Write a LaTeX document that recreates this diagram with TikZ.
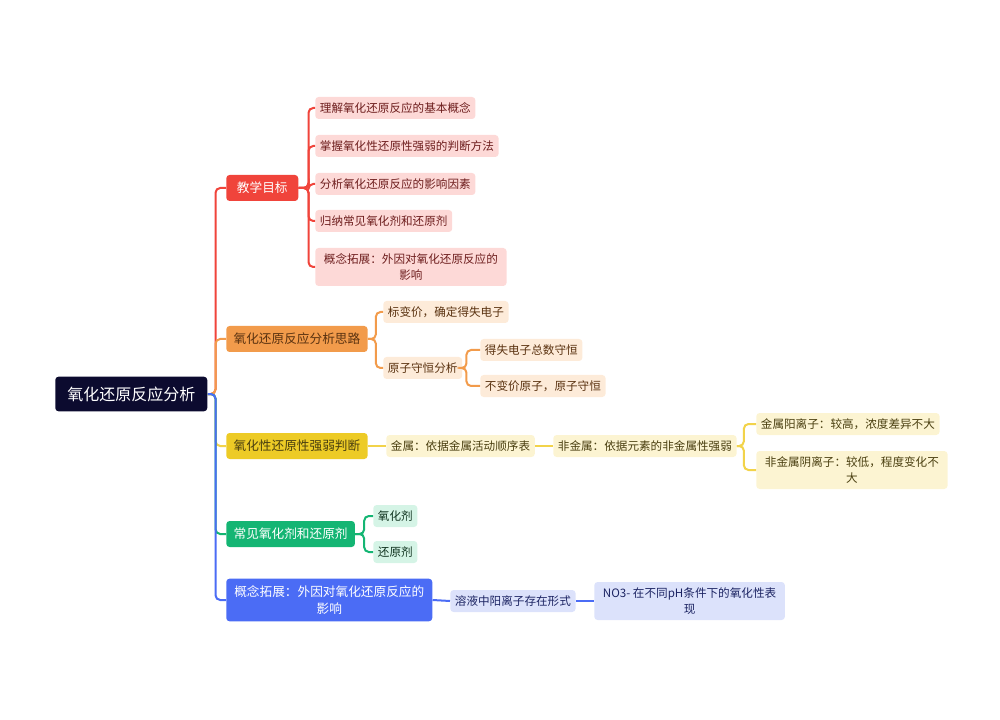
\documentclass[tikz,border=0pt]{standalone}
\usepackage{fontspec}
\setmainfont{Noto Sans CJK SC}
\definecolor{rootc}{HTML}{0C0B2F}
\definecolor{redc}{HTML}{F0443B}
\definecolor{redf}{HTML}{FDD9D7}
\definecolor{redt}{HTML}{6E1E1E}
\definecolor{orac}{HTML}{F29B4B}
\definecolor{oraf}{HTML}{FDEBD9}
\definecolor{orat}{HTML}{5A3210}
\definecolor{yelc}{HTML}{EDCB26}
\definecolor{yell}{HTML}{F2D34A}
\definecolor{yelf}{HTML}{FCF4D2}
\definecolor{yelt}{HTML}{4A3F10}
\definecolor{grec}{HTML}{14B573}
\definecolor{gref}{HTML}{D5F4E6}
\definecolor{gret}{HTML}{10331F}
\definecolor{bluc}{HTML}{4B6CF5}
\definecolor{bluf}{HTML}{DCE2FB}
\definecolor{blut}{HTML}{1C2463}
\begin{document}
\begin{tikzpicture}[x=0.75pt,y=-0.75pt,
  base/.style={rectangle, rounded corners=2.5pt, inner ysep=0pt, anchor=west, align=center},
  rootbox/.style={base, fill=rootc, text=white, font=\fontsize{12}{14}\selectfont, minimum height=26pt, inner xsep=9pt},
  lone/.style={base, font=\fontsize{9.5}{13}\selectfont, minimum height=19.5pt, inner xsep=5.5pt},
  ltwo/.style={base, font=\fontsize{8.7}{11.5}\selectfont, minimum height=16.5pt, inner xsep=3.5pt},
  ltwom/.style={ltwo, inner xsep=6.5pt, minimum height=28.5pt},
  link/.style={line width=1.5pt, rounded corners=3.5pt}
]
\useasboundingbox (0,0) rectangle (1000,720);

% root
\node[rootbox] (root) at (55,394) {氧化还原反应分析};

% level 1
\node[lone, fill=redc, text=white, minimum width=54pt] (a) at (226,188) {教学目标};
\node[lone, fill=orac, text=orat] (b) at (226,339) {氧化还原反应分析思路};
\node[lone, fill=yelc, text=yelt] (c) at (226,446) {氧化性还原性强弱判断};
\node[lone, fill=grec, text=white] (d) at (226,534) {常见氧化剂和还原剂};
\node[lone, fill=bluc, text=white, inner xsep=6pt, minimum height=32pt] (e) at (226,600) {概念拓展：外因对氧化还原反应的\\影响};

% red children
\node[ltwo, fill=redf, text=redt] (a1) at (315,108) {理解氧化还原反应的基本概念};
\node[ltwo, fill=redf, text=redt] (a2) at (315,146) {掌握氧化性还原性强弱的判断方法};
\node[ltwo, fill=redf, text=redt] (a3) at (315,184) {分析氧化还原反应的影响因素};
\node[ltwo, fill=redf, text=redt] (a4) at (315,221) {归纳常见氧化剂和还原剂};
\node[ltwom, fill=redf, text=redt] (a5) at (315,267) {概念拓展：外因对氧化还原反应的\\影响};

% orange children
\node[ltwo, fill=oraf, text=orat] (b1) at (383,312) {标变价，确定得失电子};
\node[ltwo, fill=oraf, text=orat] (b2) at (383,368) {原子守恒分析};
\node[ltwo, fill=oraf, text=orat] (b21) at (480,350) {得失电子总数守恒};
\node[ltwo, fill=oraf, text=orat] (b22) at (480,386) {不变价原子，原子守恒};

% yellow children
\node[ltwo, fill=yelf, text=yelt] (c1) at (386,446) {金属：依据金属活动顺序表};
\node[ltwo, fill=yelf, text=yelt] (c2) at (553,446) {非金属：依据元素的非金属性强弱};
\node[ltwo, fill=yelf, text=yelt] (c21) at (756,424) {金属阳离子：较高，浓度差异不大};
\node[ltwom, fill=yelf, text=yelt] (c22) at (756,470) {非金属阴离子：较低，程度变化不\\大};

% green children
\node[ltwo, fill=gref, text=gret] (d1) at (373,516) {氧化剂};
\node[ltwo, fill=gref, text=gret] (d2) at (373,552) {还原剂};

% blue children
\node[ltwo, fill=bluf, text=blut] (e1) at (450,601) {溶液中阳离子存在形式};
\node[ltwom, fill=bluf, text=blut] (e2) at (594,601) {NO3- 在不同pH条件下的氧化性表\\现};

% trunk
\draw[link, redc] (root.east) -- ++(8,0) |- (a.west);
\draw[link, orac] (root.east) -- ++(8,0) |- (b.west);
\draw[link, yell] (root.east) -- ++(8,0) |- (c.west);
\draw[link, grec] (root.east) -- ++(8,0) |- (d.west);
\draw[link, bluc] (root.east) -- ++(8,0) |- (e.west);

% red bracket
\foreach \n in {a1,a2,a3,a4,a5}
  \draw[link, redc] (a.east) -- ++(10,0) |- (\n.west);
% orange
\foreach \n in {b1,b2}
  \draw[link, orac] (b.east) -- ++(8,0) |- (\n.west);
\foreach \n in {b21,b22}
  \draw[link, orac] (b2.east) -- ++(4,0) |- (\n.west);
% yellow
\draw[link, yell] (c.east) -- (c1.west);
\draw[link, yell] (c1.east) -- (c2.west);
\foreach \n in {c21,c22}
  \draw[link, yell] (c2.east) -- ++(7,0) |- (\n.west);
% green
\foreach \n in {d1,d2}
  \draw[link, grec] (d.east) -- ++(9,0) |- (\n.west);
% blue
\draw[link, bluc] (e.east) -- (e1.west);
\draw[link, bluc] (e1.east) -- (e2.west);
\end{tikzpicture}
\end{document}
